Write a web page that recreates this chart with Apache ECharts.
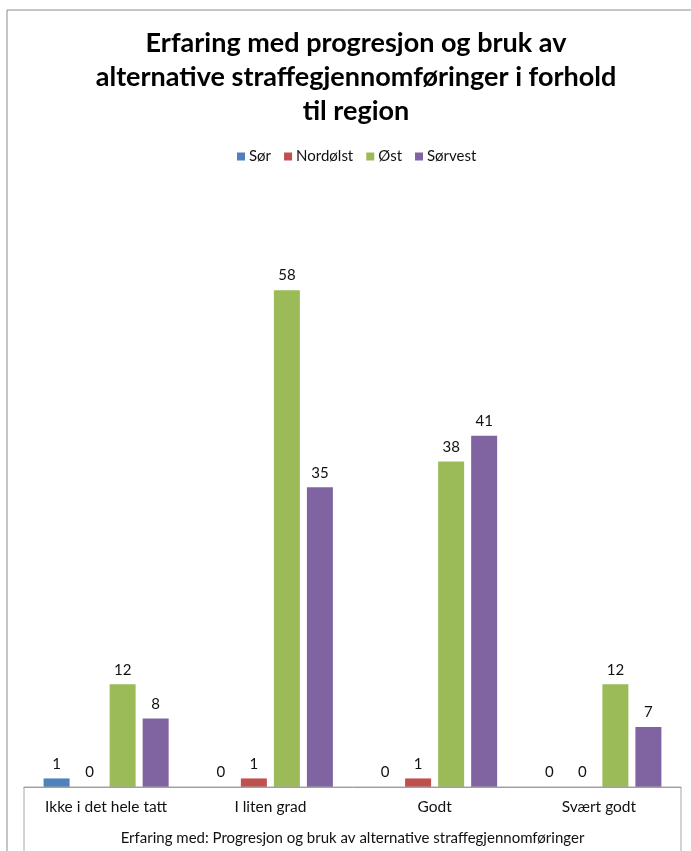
<!DOCTYPE html>
<html>
<head>
<meta charset="utf-8">
<script src="https://cdn.jsdelivr.net/npm/echarts@6/dist/echarts.min.js"></script>
<style>html,body{margin:0;padding:0;background:#fff;}#c{width:691px;height:851px;}</style>
</head>
<body>
<div id="c"></div>
<script>
const categories = ['Ikke i det hele tatt', 'I liten grad', 'Godt', 'Svært godt'];
const seriesNames = ['Sør', 'Nordølst', 'Øst', 'Sørvest'];
const sor = [1, 0, 0, 0];
const nordolst = [0, 1, 1, 0];
const ost = [12, 58, 38, 12];
const sorvest = [8, 35, 41, 7];
const colors = ['#4F81BD', '#C0504D', '#9BBB59', '#8064A2'];
const titleText = 'Erfaring med progresjon og bruk av\nalternative straffegjennomføringer i forhold\ntil region';
const axisName = 'Erfaring med: Progresjon og bruk av alternative straffegjennomføringer';

const values = [sor, nordolst, ost, sorvest];
const font = 'Lato, "Open Sans", sans-serif';

const chart = echarts.init(document.getElementById('c'));
chart.setOption({
  animation: false,
  backgroundColor: '#fff',
  textStyle: { fontFamily: font },
  title: {
    text: titleText,
    left: 351, textAlign: 'center', top: 21,
    textStyle: { fontFamily: font, fontWeight: 'bold', fontSize: 27, lineHeight: 34, color: '#000' }
  },
  legend: {
    data: seriesNames,
    top: 144, left: 232,
    itemWidth: 8, itemHeight: 8, itemGap: 13,
    icon: 'rect',
    textStyle: { fontFamily: font, fontSize: 15, color: '#111', padding: [0, 0, 0, -1] }
  },
  grid: { left: 24, right: 10, top: 273, bottom: 64, containLabel: false, outerBoundsMode: 'none' },
  xAxis: {
    type: 'category', data: categories,
    axisLine: { show: true, lineStyle: { color: '#999', width: 1 } },
    axisTick: { show: false },
    axisLabel: { fontFamily: font, fontSize: 15.5, color: '#111', margin: 12 },
    name: axisName, nameLocation: 'middle', nameGap: 44,
    nameTextStyle: { fontFamily: font, fontSize: 15, color: '#111' }
  },
  yAxis: {
    type: 'value', min: 0, max: 60, interval: 10, show: false,
    splitLine: { show: false }
  },
  series: seriesNames.map((n, i) => ({
    name: n, type: 'bar', data: values[i],
    barWidth: 26, barGap: '27%',
    itemStyle: { color: colors[i] },
    label: { show: true, position: 'top', distance: 7, fontFamily: font, fontSize: 15, color: '#111' }
  })),
  graphic: [
    { type: 'rect', shape: { x: 7, y: 10, width: 700, height: 860 }, style: { fill: 'none', stroke: '#8c8c8c', lineWidth: 1 }, silent: true, z: -1 },
    { type: 'polyline', shape: { points: [[24, 860], [24, 787], [681, 787], [681, 860]] }, style: { fill: 'none', stroke: '#a6a6a6', lineWidth: 1 }, silent: true, z: 10 }
  ]
});
</script>
</body>
</html>
